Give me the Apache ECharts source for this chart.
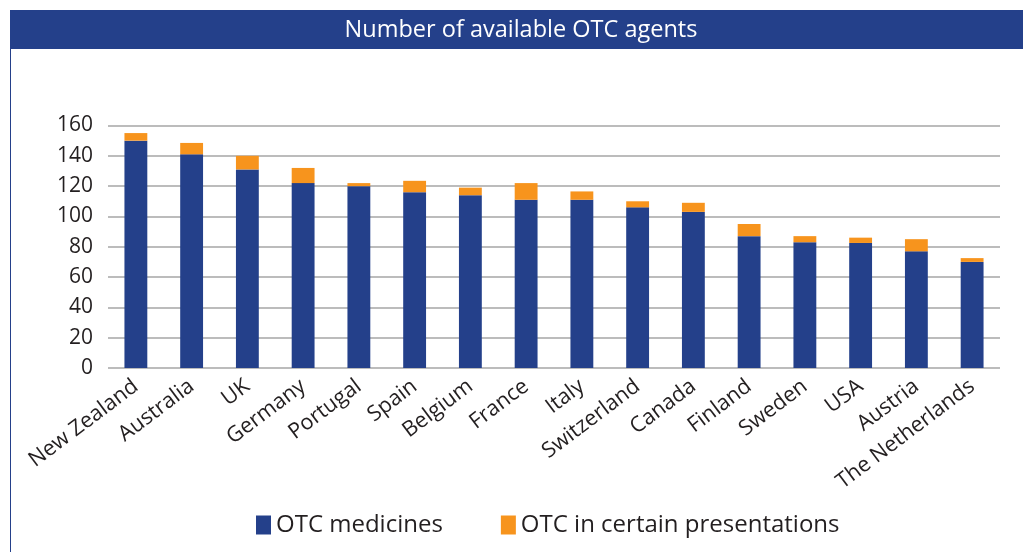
<!DOCTYPE html>
<html><head><meta charset="utf-8">
<script src="https://cdn.jsdelivr.net/npm/echarts@6/dist/echarts.min.js"></script>
<style>html,body{margin:0;padding:0;background:#fff}#c{width:1023px;height:552px}</style>
</head><body><div id="c"></div>
<script>
const titleText = "Number of available OTC agents";
const countries = ["New Zealand","Australia","UK","Germany","Portugal","Spain","Belgium","France","Italy","Switzerland","Canada","Finland","Sweden","USA","Austria","The Netherlands"];
const otcMedicines = [150,141,131,122,120,116,114,111,111,106,103,87,83,82.5,77,70];
const otcCertain = [5,7.5,9,10,2,7.5,5,11,5.5,4,6,8,4,3.5,8,2.5];
const seriesNames = ["OTC medicines","OTC in certain presentations"];
const yTicks = {min:0, max:160, interval:20};

const BLUE = "#24408a", ORANGE = "#f7941d", TXT = "#231f20";
const FONT = "Open Sans";
const chart = echarts.init(document.getElementById('c'));
chart.setOption({
  animation:false,
  textStyle:{fontFamily:FONT},
  graphic:[
    {type:'rect', shape:{x:10,y:10,width:1013,height:39}, style:{fill:BLUE}},
    {type:'line', shape:{x1:10.5,y1:49,x2:10.5,y2:552}, style:{stroke:BLUE,lineWidth:1}},
    {type:'text', x:521, y:30, style:{text:titleText, fill:'#fff', font:'23.5px "Open Sans"', align:'center', verticalAlign:'middle'}}
  ],
  legend:{
    left:251, top:508, itemWidth:15, itemHeight:19, itemGap:58,
    textStyle:{fontSize:24, color:TXT, fontFamily:FONT},
    data:seriesNames, icon:'rect'
  },
  grid:{left:108, right:23, top:125.5, bottom:184},
  xAxis:{
    type:'category', data:countries,
    axisLine:{show:false}, axisTick:{show:false},
    axisLabel:{rotate:37, fontSize:21.5, color:TXT, interval:0, margin:16, fontFamily:FONT}
  },
  yAxis:{
    type:'value', min:yTicks.min, max:yTicks.max, interval:yTicks.interval,
    axisLine:{show:false}, axisTick:{show:false},
    axisLabel:{fontSize:21, color:TXT, margin:15, fontFamily:FONT},
    splitLine:{lineStyle:{color:'#a6a6a6', width:1.5}}
  },
  series:[
    {name:seriesNames[0], type:'bar', stack:'a', data:otcMedicines, barWidth:'41%', itemStyle:{color:BLUE}},
    {name:seriesNames[1], type:'bar', stack:'a', data:otcCertain, itemStyle:{color:ORANGE}}
  ]
});
</script></body></html>
